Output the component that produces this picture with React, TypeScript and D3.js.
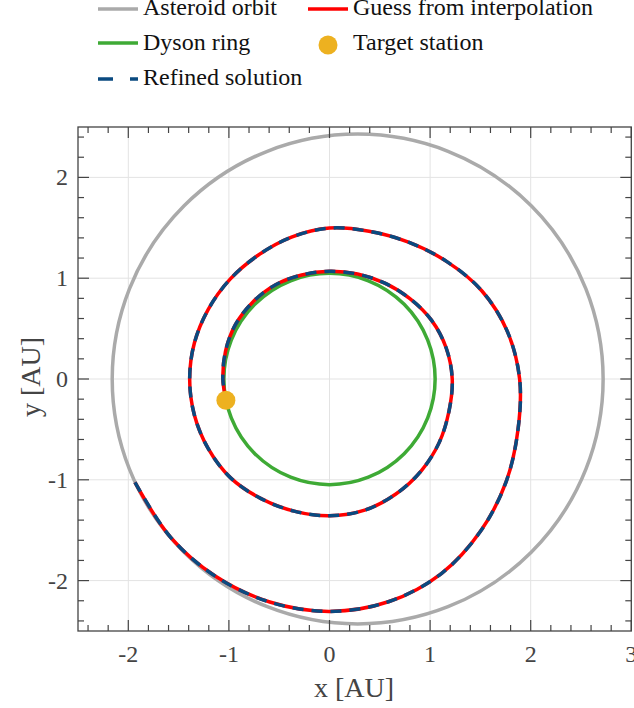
import * as d3 from 'd3';

// refined trajectory: polar angle (deg, ccw from +x) and radius (AU)
const trajAngle = [208, 225, 240, 255, 270, 285, 300, 315, 330, 345, 360, 375, 390, 405, 420, 435, 450, 465, 480, 495, 510, 525, 540, 555, 570, 585, 600, 615, 630, 645, 660, 675, 690, 705, 720, 735, 750, 765, 780, 795, 810, 825, 840, 855, 870, 885, 900, 911];
const trajRadius = [2.19, 2.23, 2.265, 2.295, 2.31, 2.29, 2.23, 2.13, 2.03, 1.94, 1.89, 1.83, 1.75, 1.65, 1.57, 1.52, 1.50, 1.46, 1.42, 1.40, 1.39, 1.39, 1.39, 1.39, 1.39, 1.39, 1.37, 1.36, 1.36, 1.35, 1.32, 1.29, 1.26, 1.23, 1.22, 1.20, 1.17, 1.13, 1.10, 1.08, 1.07, 1.07, 1.08, 1.08, 1.08, 1.07, 1.06, 1.05];

const orbitCenter = [0.28, 0];
const orbitAxes = [2.44, 2.43];
const ringRadius = 1.05;
const station = [-1.03, -0.21];

const xTicks = [-2, -1, 0, 1, 2, 3];
const yTicks = [-2, -1, 0, 1, 2];
const legendItems = ['Asteroid orbit', 'Guess from interpolation', 'Dyson ring', 'Target station', 'Refined solution'];

const W = 634, H = 708;
const font = '"Liberation Serif", serif';

const App = () => {
  const x = d3.scaleLinear().domain([-2.5, 3]).range([78, 631.3]);
  const y = d3.scaleLinear().domain([-2.5, 2.5]).range([631, 127]);

  const minorX = d3.range(-12, 16).map(i => i * 0.2);
  const minorY = d3.range(-12, 13).map(i => i * 0.2);

  const pxPerAU = x(1) - x(0);
  const spiral = d3.lineRadial<number>()
    .angle(i => Math.PI / 2 - (trajAngle[i] * Math.PI) / 180)
    .radius(i => trajRadius[i] * pxPerAU)
    .curve(d3.curveCatmullRom.alpha(0.5));
  const path = spiral(d3.range(trajAngle.length)) as string;

  const tickCol = '#444';
  const [x0, x1] = x.range();
  const [y0, y1] = y.range();
  const fmt = (t: number) => (t < 0 ? '-' + Math.abs(t) : String(t));

  return (
    <svg width={W} height={H} style={{ position: 'absolute', left: 0, top: 0 }} fontFamily={font}>
      {/* grid */}
      {xTicks.map(t => (
        <line key={'gx' + t} x1={x(t)} x2={x(t)} y1={y1} y2={y0} stroke="#e3e3e3" strokeWidth={1} />
      ))}
      {yTicks.map(t => (
        <line key={'gy' + t} x1={x0} x2={x1} y1={y(t)} y2={y(t)} stroke="#e3e3e3" strokeWidth={1} />
      ))}

      <ellipse cx={x(orbitCenter[0])} cy={y(orbitCenter[1])}
        rx={x(orbitAxes[0]) - x(0)} ry={y(0) - y(orbitAxes[1])}
        fill="none" stroke="#aaaaaa" strokeWidth={3.5} />
      <circle cx={x(0)} cy={y(0)} r={x(ringRadius) - x(0)} fill="none" stroke="#3eaa35" strokeWidth={3.5} />

      <g transform={`translate(${x(0)},${y(0)})`}>
        <path d={path} fill="none" stroke="#ff0000" strokeWidth={3.5} />
        <path d={path} fill="none" stroke="#0a4a80" strokeWidth={3.5} strokeDasharray="11 8" />
      </g>

      <circle cx={x(station[0])} cy={y(station[1])} r={9.5} fill="#edb120" />

      {/* frame & ticks */}
      <rect x={x0} y={y1} width={x1 - x0} height={y0 - y1} fill="none" stroke={tickCol} strokeWidth={1.3} />
      {minorX.map((t, i) => {
        const len = Math.abs(t - Math.round(t)) < 1e-6 ? 11 : 6;
        return (
          <g key={'tx' + i} stroke={tickCol} strokeWidth={1.2}>
            <line x1={x(t)} x2={x(t)} y1={y0} y2={y0 - len} />
            <line x1={x(t)} x2={x(t)} y1={y1} y2={y1 + len} />
          </g>
        );
      })}
      {minorY.map((t, i) => {
        const len = Math.abs(t - Math.round(t)) < 1e-6 ? 11 : 6;
        return (
          <g key={'ty' + i} stroke={tickCol} strokeWidth={1.2}>
            <line x1={x0} x2={x0 + len} y1={y(t)} y2={y(t)} />
            <line x1={x1} x2={x1 - len} y1={y(t)} y2={y(t)} />
          </g>
        );
      })}

      {xTicks.map(t => (
        <text key={'lx' + t} x={x(t)} y={662} textAnchor="middle" fontSize={24} fill={tickCol}>{fmt(t)}</text>
      ))}
      {yTicks.map(t => (
        <text key={'ly' + t} x={68} y={y(t) + 8} textAnchor="end" fontSize={24} fill={tickCol}>{fmt(t)}</text>
      ))}

      <text x={354} y={697} textAnchor="middle" fontSize={28} fill={tickCol}>x [AU]</text>
      <text transform={`translate(40,${y(0) - 2}) rotate(-90)`} textAnchor="middle" fontSize={28} fill={tickCol}>y [AU]</text>

      {/* legend */}
      <g fontSize={24} fill="#111">
        <line x1={98} x2={138} y1={9} y2={9} stroke="#aaaaaa" strokeWidth={3.5} />
        <text x={143} y={15}>{legendItems[0]}</text>
        <line x1={308} x2={348} y1={9} y2={9} stroke="#ff0000" strokeWidth={3.5} />
        <text x={353} y={15}>{legendItems[1]}</text>
        <line x1={98} x2={138} y1={43} y2={43} stroke="#3eaa35" strokeWidth={3.5} />
        <text x={143} y={50}>{legendItems[2]}</text>
        <circle cx={328} cy={45} r={9.5} fill="#edb120" />
        <text x={353} y={50}>{legendItems[3]}</text>
        <line x1={98} x2={138} y1={79} y2={79} stroke="#0a4a80" strokeWidth={3.5} strokeDasharray="15 17" />
        <text x={143} y={85}>{legendItems[4]}</text>
      </g>
    </svg>
  );
};

export default App;
